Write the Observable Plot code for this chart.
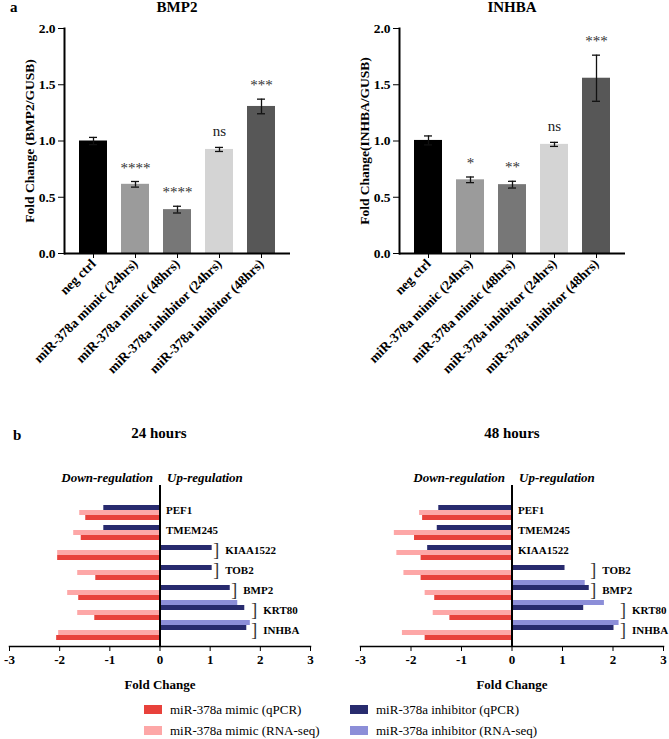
<!DOCTYPE html>
<html><head><meta charset="utf-8">
<script src="https://cdn.jsdelivr.net/npm/d3@7"></script>
<script src="https://cdn.jsdelivr.net/npm/@observablehq/plot@0.6"></script>
<style>
body{margin:0;background:#fff;}
#root{position:relative;width:669px;height:739px;overflow:hidden;font-family:"Liberation Serif",Tinos,"Times New Roman",Times,serif;color:#000;}
.abs{position:absolute;white-space:nowrap;}
.t{font-weight:bold;font-size:15px;line-height:15px;}
.ctr{transform:translateX(-50%);}
.leg{display:flex;align-items:center;gap:8px;font-size:13px;line-height:13px;}
.sw{width:18px;height:9px;display:inline-block;}
</style></head><body><div id="root"></div>
<script>
// ---------- Panel a data ----------
const conditions = ["neg ctrl","miR-378a mimic (24hrs)","miR-378a mimic (48hrs)","miR-378a inhibitor (24hrs)","miR-378a inhibitor (48hrs)"];
const conditionColors = ["#000000","#9b9b9b","#777777","#d4d4d4","#575757"];
const yTicksA = [0, 0.5, 1.0, 1.5, 2.0];
const bmp2Mean = [1.00, 0.615, 0.39, 0.925, 1.307];
const bmp2Err  = [0.032, 0.025, 0.03, 0.018, 0.065];
const bmp2Sig  = ["", "****", "****", "ns", "***"];
const inhbaMean = [1.005, 0.655, 0.612, 0.97, 1.558];
const inhbaErr  = [0.04, 0.025, 0.03, 0.018, 0.205];
const inhbaSig  = ["", "*", "**", "ns", "***"];

// ---------- Panel b data ----------
const genes = ["PEF1","TMEM245","KIAA1522","TOB2","BMP2","KRT80","INHBA"];
const seriesNames = ["miR-378a inhibitor (RNA-seq)","miR-378a inhibitor (qPCR)","miR-378a mimic (RNA-seq)","miR-378a mimic (qPCR)"];
const seriesColors = ["#8c8ed8","#282b6e","#fda7a7","#e8413b"];
const xTicksB = [-3,-2,-1,0,1,2,3];
const regionLabels = ["Down-regulation","Up-regulation"];
// 24 hours
const h24InhRNA = [null, null, null, null, null, 1.55, 1.80];
const h24InhQ   = [-1.12, -1.12, 1.04, 1.04, 1.40, 1.69, 1.73];
const h24MimRNA = [-1.60, -1.72, -2.04, -1.64, -1.84, -1.64, -2.02];
const h24MimQ   = [-1.48, -1.57, -2.04, -1.28, -1.62, -1.30, -2.06];
const h24BracketGroups = [["KIAA1522","TOB2"],["BMP2"],["KRT80","INHBA"]];
// 48 hours
const h48InhRNA = [null, null, null, null, 1.45, 1.83, 2.12];
const h48InhQ   = [-1.45, -1.48, -1.67, 1.05, 1.53, 1.42, 2.02];
const h48MimRNA = [-1.83, -2.33, -2.28, -2.14, -1.72, -1.56, -2.17];
const h48MimQ   = [-1.77, -1.93, -1.80, -1.80, -1.53, -1.23, -1.72];
const h48BracketGroups = [["TOB2","BMP2"],["KRT80","INHBA"]];

const legendItems = [
  {name: "miR-378a mimic (qPCR)", color: "#e8413b", left: 144, top: 703},
  {name: "miR-378a mimic (RNA-seq)", color: "#fda7a7", left: 144, top: 724},
  {name: "miR-378a inhibitor (qPCR)", color: "#282b6e", left: 350, top: 703},
  {name: "miR-378a inhibitor (RNA-seq)", color: "#8c8ed8", left: 350, top: 724}
];

const FONT = "'Liberation Serif',Tinos,'Times New Roman',Times,serif";
const root = document.getElementById("root");
function place(el, left, top) {
  el.style.position = "absolute"; el.style.left = left + "px"; el.style.top = top + "px";
  root.appendChild(el);
}
function label(text, left, top, center) {
  const d = document.createElement("div");
  d.className = "abs t" + (center ? " ctr" : "");
  d.textContent = text;
  d.style.left = left + "px"; d.style.top = top + "px";
  root.appendChild(d);
}

function barPanel(means, errs, sigs, ylabel) {
  const rows = conditions.map((c, i) => ({cond: c, mean: means[i], err: errs[i], sig: sigs[i]}));
  return Plot.plot({
    width: 335, height: 392,
    marginLeft: 64, marginRight: 45, marginTop: 28, marginBottom: 139,
    style: {fontFamily: FONT, color: "black", background: "transparent", overflow: "visible"},
    x: {domain: conditions, paddingInner: 0.336, paddingOuter: 0.355},
    y: {domain: [0, 2]},
    color: {domain: conditions, range: conditionColors},
    marks: [
      Plot.barY(rows, {x: "cond", y: "mean", fill: "cond"}),
      Plot.ruleX(rows, {x: "cond", y1: d => d.mean - d.err, y2: d => d.mean + d.err, stroke: "#111", strokeWidth: 1.3}),
      Plot.tickY(rows, {x: "cond", y: d => d.mean + d.err, insetLeft: 10, insetRight: 10, stroke: "#111", strokeWidth: 1.3}),
      Plot.tickY(rows, {x: "cond", y: d => d.mean - d.err, insetLeft: 10, insetRight: 10, stroke: "#111", strokeWidth: 1.3}),
      Plot.text(rows.filter(d => d.sig.startsWith("*")), {x: "cond", y: d => d.mean + d.err, text: "sig", lineAnchor: "bottom", dy: -9, fontSize: 15, fill: "#333"}),
      Plot.text(rows.filter(d => d.sig === "ns"), {x: "cond", y: d => d.mean + d.err, text: "sig", lineAnchor: "bottom", dy: -11, fontSize: 15, fill: "#222"}),
      Plot.ruleY([0], {strokeWidth: 2}),
      Plot.frame({anchor: "left", strokeWidth: 2}),
      Plot.axisY({ticks: yTicksA, tickFormat: d => d.toFixed(1), tickSize: 6, tickPadding: 3, fontSize: 13.5, fontWeight: "bold", label: ylabel, labelAnchor: "center", labelArrow: "none", labelOffset: 40}),
      Plot.axisX({tickRotate: -45, tickSize: 5, tickPadding: 3, fontSize: 13.5, fontWeight: "bold", label: null})
    ]
  });
}

function hbarPanel(inhRNA, inhQ, mimRNA, mimQ, groups, opts) {
  const cols = [inhRNA, inhQ, mimRNA, mimQ];
  const rows = [];
  genes.forEach((g, gi) => cols.forEach((arr, si) => {
    if (arr[gi] != null) rows.push({gene: g, series: seriesNames[si], key: g + "|" + seriesNames[si], value: arr[gi]});
  }));
  const yKeys = genes.flatMap(g => seriesNames.map(s => g + "|" + s));
  const labels = genes.map(g => {
    const hasPos = rows.some(r => r.gene === g && r.value > 0);
    if (!hasPos) return {gene: g, bx: 0, bracket: false, key: g + "|" + seriesNames[1]};
    const grp = groups.find(gr => gr.includes(g)) || [g];
    const bx = d3.max(rows.filter(r => grp.includes(r.gene) && r.value > 0), r => r.value);
    return {gene: g, bx, bracket: true, key: g + "|" + seriesNames[1]};
  });
  return Plot.plot({
    width: opts.width, height: 265,
    marginLeft: opts.ml, marginRight: opts.mr, marginTop: 45, marginBottom: 59,
    style: {fontFamily: FONT, color: "black", background: "transparent", overflow: "visible"},
    x: {domain: [-3, 3]},
    y: {type: "band", domain: yKeys, paddingInner: 0, paddingOuter: 0, insetTop: 8, axis: null},
    color: {domain: seriesNames, range: seriesColors},
    marks: [
      Plot.barX(rows, {x: "value", y: "key", fill: "series"}),
      Plot.ruleX([0], {strokeWidth: 2}),
      Plot.frame({anchor: "bottom", strokeWidth: 1.5}),
      Plot.axisX({ticks: xTicksB, tickFormat: d => String(d), tickSize: 5, tickPadding: 3, fontSize: 13, fontWeight: "bold", label: "Fold Change", labelAnchor: "center", labelArrow: "none", labelOffset: 42}),
      Plot.text([regionLabels[0]], {x: () => 0, frameAnchor: "top", text: d => d, textAnchor: "end", lineAnchor: "bottom", dx: -7, dy: -4, fontSize: 13, fontWeight: "bold", fontStyle: "italic"}),
      Plot.text([regionLabels[1]], {x: () => 0, frameAnchor: "top", text: d => d, textAnchor: "start", lineAnchor: "bottom", dx: 7, dy: -4, fontSize: 13, fontWeight: "bold", fontStyle: "italic"}),
      Plot.text(labels.filter(d => d.bracket), {x: "bx", y: "key", text: () => "]", textAnchor: "end", lineAnchor: "middle", dx: 7, dy: 2.7, fontSize: 18, fill: "#333"}),
      Plot.text(labels.filter(d => d.bracket), {x: "bx", y: "key", text: "gene", textAnchor: "start", lineAnchor: "middle", dx: 13, dy: 2.7, fontSize: 11, fontWeight: "bold"}),
      Plot.text(labels.filter(d => !d.bracket), {x: "bx", y: "key", text: "gene", textAnchor: "start", lineAnchor: "middle", dx: 6, dy: 2.7, fontSize: 11, fontWeight: "bold"})
    ]
  });
}

place(barPanel(bmp2Mean, bmp2Err, bmp2Sig, "Fold Change (BMP2/GUSB)"), 0, 0);
place(barPanel(inhbaMean, inhbaErr, inhbaSig, "Fold Change(INHBA/GUSB)"), 335, 0);
place(hbarPanel(h24InhRNA, h24InhQ, h24MimRNA, h24MimQ, h24BracketGroups, {width: 335, ml: 9, mr: 25}), 0, 440);
place(hbarPanel(h48InhRNA, h48InhQ, h48MimRNA, h48MimQ, h48BracketGroups, {width: 334, ml: 25, mr: 6}), 335, 440);

label("a", 10, 0, false);
label("BMP2", 177, 0, true);
label("INHBA", 512, 0, true);
label("b", 13, 428, false);
label("24 hours", 159, 426, true);
label("48 hours", 512, 426, true);

legendItems.forEach(it => {
  const d = document.createElement("div");
  d.className = "abs leg";
  const sw = document.createElement("span");
  sw.className = "sw"; sw.style.background = it.color;
  const tx = document.createElement("span");
  tx.textContent = it.name;
  d.appendChild(sw); d.appendChild(tx);
  d.style.left = it.left + "px"; d.style.top = it.top + "px";
  root.appendChild(d);
});
</script></body></html>
